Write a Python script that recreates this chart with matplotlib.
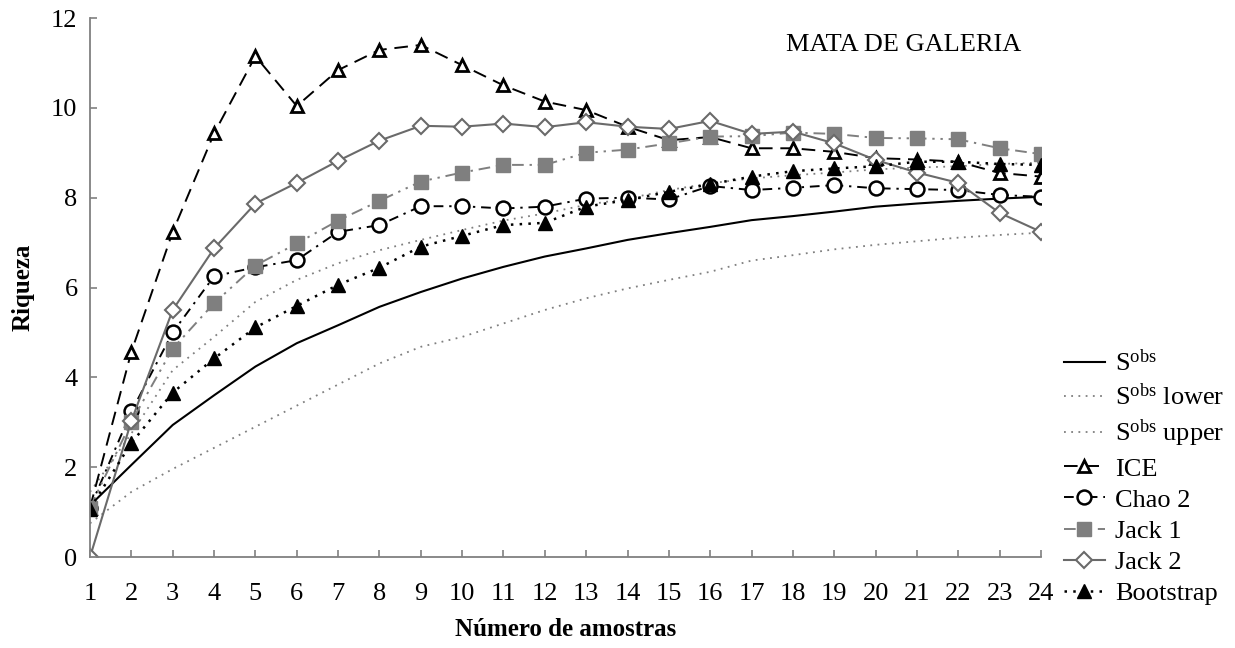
"""Species accumulation curves and richness estimators - Mata de Galeria."""

import matplotlib
matplotlib.use("Agg")
import matplotlib.pyplot as plt
import numpy as np

BLACK = "#000000"
GRAY = "#7F7F7F"
GRAY_DARK = "#6A6A6A"
AXIS_GRAY = "#808080"

samples = list(range(1, 25))

s_obs = [1.15, 2.05, 2.94, 3.6, 4.24, 4.76, 5.16, 5.57, 5.9, 6.2, 6.46, 6.69,
         6.87, 7.06, 7.21, 7.35, 7.5, 7.59, 7.69, 7.8, 7.87, 7.93, 7.98, 8.02]
s_obs_lower = [0.75, 1.45, 1.96, 2.43, 2.9, 3.37, 3.84, 4.31, 4.68, 4.9, 5.2, 5.5,
               5.76, 5.98, 6.17, 6.35, 6.6, 6.72, 6.85, 6.95, 7.03, 7.11, 7.17, 7.22]
s_obs_upper = [1.45, 2.75, 4.16, 4.9, 5.68, 6.17, 6.54, 6.83, 7.06, 7.28, 7.49, 7.65,
               7.84, 7.98, 8.17, 8.32, 8.43, 8.5, 8.56, 8.63, 8.67, 8.7, 8.75, 8.78]
ice = [1.1, 4.57, 7.24, 9.43, 11.15, 10.04, 10.84, 11.29, 11.4, 10.95, 10.5, 10.14,
       9.95, 9.58, 9.28, 9.35, 9.1, 9.1, 9.02, 8.88, 8.85, 8.8, 8.55, 8.47]
chao2 = [1.1, 3.24, 5.0, 6.25, 6.45, 6.61, 7.24, 7.39, 7.81, 7.81, 7.76, 7.8,
         7.98, 8.0, 7.96, 8.26, 8.17, 8.22, 8.28, 8.21, 8.19, 8.17, 8.06, 8.02]
jack1 = [1.1, 3.01, 4.64, 5.65, 6.49, 6.98, 7.49, 7.93, 8.36, 8.56, 8.73, 8.73,
         9.0, 9.07, 9.21, 9.36, 9.37, 9.45, 9.42, 9.33, 9.32, 9.3, 9.1, 8.97]
jack2 = [0.0, 3.03, 5.5, 6.87, 7.87, 8.33, 8.82, 9.27, 9.6, 9.58, 9.65, 9.57,
         9.68, 9.58, 9.53, 9.71, 9.42, 9.47, 9.21, 8.84, 8.56, 8.33, 7.66, 7.24]
bootstrap = [1.08, 2.54, 3.66, 4.42, 5.11, 5.59, 6.06, 6.44, 6.91, 7.15, 7.39, 7.44,
             7.8, 7.95, 8.13, 8.3, 8.47, 8.59, 8.65, 8.7, 8.8, 8.8, 8.75, 8.73]

SOBS = r"S$^{\mathrm{obs}}$"
FONT_SIZE = 19


def configure_style() -> None:
    plt.rcParams.update(
        {
            "font.family": ["Liberation Serif", "DejaVu Serif"],
            "font.size": FONT_SIZE,
            "mathtext.fontset": "custom",
            "mathtext.rm": "Liberation Serif",
            "mathtext.it": "Liberation Serif:italic",
            "mathtext.bf": "Liberation Serif:bold",
        }
    )


def main() -> None:
    configure_style()
    fig = plt.figure(figsize=(12.35, 6.48), dpi=100)
    ax = fig.add_axes([0.0729, 0.1404, 0.7700, 0.8318])

    ax.plot(samples, s_obs, color=BLACK, linewidth=1.5, label=SOBS)
    ax.plot(samples, s_obs_lower, color=GRAY, linewidth=1.3, linestyle=(0, (1, 3)),
            label=SOBS + " lower")
    ax.plot(samples, s_obs_upper, color=GRAY, linewidth=1.3, linestyle=(0, (1, 3)),
            label=SOBS + " upper")
    ax.plot(samples, ice, color=BLACK, linewidth=1.4, linestyle=(0, (7, 4)),
            marker="^", markersize=8, markerfacecolor="white", markeredgecolor=BLACK,
            markeredgewidth=2.0, label="ICE")
    ax.plot(samples, chao2, color=BLACK, linewidth=1.4, linestyle=(0, (5, 3, 1.2, 3)),
            marker="o", markersize=10, markerfacecolor="white", markeredgecolor=BLACK,
            markeredgewidth=1.8, label="Chao 2")
    ax.plot(samples, jack1, color=GRAY, linewidth=1.4,
            linestyle=(0, (6, 3, 1.2, 3, 1.2, 3)),
            marker="s", markersize=9.5, markerfacecolor=GRAY, markeredgecolor=GRAY,
            label="Jack 1")
    ax.plot(samples, jack2, color=GRAY_DARK, linewidth=1.5,
            marker="D", markersize=8, markerfacecolor="white", markeredgecolor=GRAY_DARK,
            markeredgewidth=1.5, label="Jack 2")
    ax.plot(samples, bootstrap, color=BLACK, linewidth=1.8, linestyle=(0, (1, 2.5)),
            marker="^", markersize=10, markerfacecolor=BLACK, markeredgecolor=BLACK,
            label="Bootstrap")

    ax.set_xlim(1, 24)
    ax.set_ylim(0, 12)
    ax.set_xticks(samples)
    ax.set_yticks(range(0, 13, 2))
    for side in ("top", "right"):
        ax.spines[side].set_visible(False)
    for side in ("left", "bottom"):
        ax.spines[side].set_color(AXIS_GRAY)
        ax.spines[side].set_linewidth(1.3)
    ax.tick_params(axis="both", direction="in", length=5, width=1.2, color=AXIS_GRAY,
                   labelsize=FONT_SIZE)
    ax.tick_params(axis="x", pad=19)
    ax.tick_params(axis="y", pad=9)
    ax.set_xlabel("Número de amostras", fontweight="bold", fontsize=18, labelpad=9)
    ax.set_ylabel("Riqueza", fontweight="bold", fontsize=18, labelpad=12)

    ax.text(0.856, 0.95, "MATA DE GALERIA", transform=ax.transAxes, ha="center",
            va="center", fontsize=FONT_SIZE)

    handles, labels = ax.get_legend_handles_labels()
    fig.legend(handles, labels, loc="lower left", bbox_to_anchor=(0.853, 0.05),
               frameon=False, fontsize=FONT_SIZE, handlelength=1.55, handletextpad=0.4,
               labelspacing=0.29, borderaxespad=0.0)

    fig.savefig("out.png", dpi=100)
    plt.close(fig)


if __name__ == "__main__":
    main()
